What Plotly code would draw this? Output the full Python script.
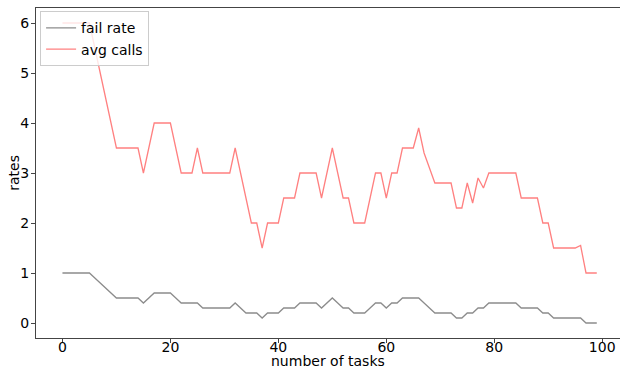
import plotly.graph_objects as go

tasks = list(range(100))

fail_rate = (
    [1.0] * 6 + [0.9, 0.8, 0.7, 0.6, 0.5] + [0.5] * 4 + [0.4, 0.5] + [0.6] * 4 + [0.5]
    + [0.4] * 4 + [0.3] * 6 + [0.4, 0.3] + [0.2] * 3 + [0.1] + [0.2] * 3 + [0.3] * 3
    + [0.4] * 4 + [0.3, 0.4, 0.5, 0.4] + [0.3] * 2 + [0.2] * 3 + [0.3] + [0.4] * 2
    + [0.3] + [0.4] * 2 + [0.5] * 4 + [0.4, 0.3] + [0.2] * 4 + [0.1] * 2 + [0.2] * 2
    + [0.3] * 2 + [0.4] * 6 + [0.3] * 4 + [0.2] * 2 + [0.1] * 6 + [0.0] * 3
)

avg_calls = (
    [6.0] * 6 + [5.5, 5.0, 4.5, 4.0, 3.5] + [3.5] * 4 + [3.0, 3.5] + [4.0] * 4 + [3.5]
    + [3.0] * 3 + [3.5] + [3.0] * 6 + [3.5, 3.0, 2.5, 2.0, 2.0, 1.5] + [2.0] * 3
    + [2.5] * 3 + [3.0] * 4 + [2.5, 3.0, 3.5, 3.0] + [2.5] * 2 + [2.0] * 3 + [2.5]
    + [3.0] * 2 + [2.5] + [3.0] * 2 + [3.5] * 3 + [3.9, 3.4, 3.1] + [2.8] * 4
    + [2.3] * 2 + [2.8, 2.4, 2.9, 2.7] + [3.0] * 6 + [2.5] * 4 + [2.0] * 2
    + [1.5] * 5 + [1.55] + [1.0] * 3
)

x_ticks = [0, 20, 40, 60, 80, 100]
y_ticks = [0, 1, 2, 3, 4, 5, 6]

fig = go.Figure()
fig.add_trace(go.Scatter(x=tasks, y=fail_rate, mode="lines", name="fail rate",
                         line=dict(color="#8c8c8c", width=1.3)))
fig.add_trace(go.Scatter(x=tasks, y=avg_calls, mode="lines", name="avg calls",
                         line=dict(color="#ff8080", width=1.3)))

axis_common = dict(
    showline=True, linecolor="#444444", linewidth=1, mirror=True,
    ticks="outside", ticklen=4, tickcolor="#444444", tickwidth=1,
    showgrid=False, zeroline=False, automargin=False,
    tickfont=dict(family="DejaVu Sans", size=14, color="#000000"),
)

fig.update_layout(
    width=620, height=369,
    margin=dict(l=36, r=0, t=8, b=31, pad=0),
    paper_bgcolor="white", plot_bgcolor="white",
    font=dict(family="DejaVu Sans", size=14, color="#000000"),
    showlegend=True,
    legend=dict(x=0.007, y=0.99, xanchor="left", yanchor="top",
                bgcolor="rgba(255,255,255,0.8)", bordercolor="#cccccc", borderwidth=1,
                font=dict(family="DejaVu Sans", size=14), itemwidth=30,
                tracegroupgap=0),
    xaxis=dict(range=[-4.9, 103.3], tickvals=x_ticks, ticklabelstandoff=-8,
               **axis_common),
    yaxis=dict(range=[-0.3, 6.3], tickvals=y_ticks, ticklabelstandoff=-1,
               **axis_common),
    annotations=[
        dict(text="number of tasks", xref="paper", yref="paper", x=0.5, y=-0.071,
             xanchor="center", yanchor="middle", showarrow=False, height=14,
             font=dict(family="DejaVu Sans", size=14, color="#000000")),
        dict(text="rates", xref="paper", yref="paper", x=-0.038, y=0.5,
             xanchor="center", yanchor="middle", showarrow=False, textangle=-90,
             font=dict(family="DejaVu Sans", size=14, color="#000000")),
    ],
)

fig.write_html("out.html", config={"displayModeBar": False},
               post_script="document.body.style.margin='0';document.body.style.overflow='hidden';")
